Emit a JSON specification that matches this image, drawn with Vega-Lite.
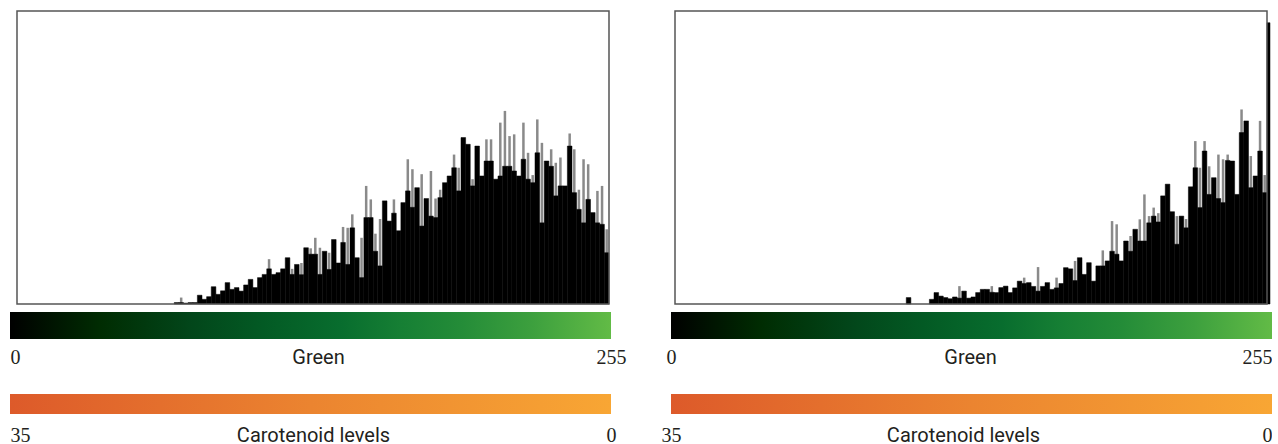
{
  "$schema": "https://vega.github.io/schema/vega-lite/v6.json",
  "padding": {"left": 10, "top": 10, "right": 0, "bottom": 0},
  "autosize": {"type": "pad"},
  "background": "white",
  "config": {"view": {"stroke": null}},
  "spacing": 35,
  "datasets": {
    "left": [
      {"g0":68,"g1":70,"count":0.5},{"g0":70,"g1":72,"count":0.5,"spike":2.2},{"g0":72,"g1":74,"count":0.3},{"g0":74,"g1":76,"count":0.5},
      {"g0":76,"g1":78,"count":0.5},{"g0":78,"g1":80,"count":3},{"g0":80,"g1":82,"count":1.6},{"g0":82,"g1":84,"count":2.5},
      {"g0":84,"g1":86,"count":5.9},{"g0":86,"g1":88,"count":3.3},{"g0":88,"g1":90,"count":4.5},{"g0":90,"g1":92,"count":7.3},
      {"g0":92,"g1":94,"count":5},{"g0":94,"g1":96,"count":5.6},{"g0":96,"g1":98,"count":4.4},{"g0":98,"g1":100,"count":6.5},
      {"g0":100,"g1":102,"count":8.4},{"g0":102,"g1":104,"count":5.6},{"g0":104,"g1":106,"count":9},{"g0":106,"g1":108,"count":10.1},
      {"g0":108,"g1":110,"count":12,"spike":15.3},{"g0":110,"g1":112,"count":10.1},{"g0":112,"g1":114,"count":10.7},{"g0":114,"g1":116,"count":12},
      {"g0":116,"g1":118,"count":15.8},{"g0":118,"g1":120,"count":10.1,"spike":12},{"g0":120,"g1":122,"count":13.5},{"g0":122,"g1":124,"count":10,"spike":14},
      {"g0":124,"g1":126,"count":19.2},{"g0":126,"g1":128,"count":17,"spike":19},{"g0":128,"g1":130,"count":17,"spike":22.6},{"g0":130,"g1":132,"count":10.1,"spike":19.2},
      {"g0":132,"g1":134,"count":18},{"g0":134,"g1":136,"count":11.8,"spike":17.5},{"g0":136,"g1":138,"count":22},{"g0":138,"g1":140,"count":14},
      {"g0":140,"g1":142,"count":21,"spike":26.3},{"g0":142,"g1":144,"count":13.5,"spike":26},{"g0":144,"g1":146,"count":26,"spike":30.6},{"g0":146,"g1":148,"count":15.8},
      {"g0":148,"g1":150,"count":9,"spike":22.6},{"g0":150,"g1":152,"count":29.5,"spike":40.3},{"g0":152,"g1":154,"count":29.5,"spike":35.7},{"g0":154,"g1":156,"count":18,"spike":24},
      {"g0":156,"g1":158,"count":13,"spike":29},{"g0":158,"g1":160,"count":35.2},{"g0":160,"g1":162,"count":28.3},{"g0":162,"g1":164,"count":31,"spike":35.7},
      {"g0":164,"g1":166,"count":25},{"g0":166,"g1":168,"count":34.6},{"g0":168,"g1":170,"count":38.6,"spike":49.4},{"g0":170,"g1":172,"count":33,"spike":46},
      {"g0":172,"g1":174,"count":39.7},{"g0":174,"g1":176,"count":26.6,"spike":44.3},{"g0":176,"g1":178,"count":36},{"g0":178,"g1":180,"count":30,"spike":45.4},
      {"g0":180,"g1":182,"count":29.5,"spike":36},{"g0":182,"g1":184,"count":36.3,"spike":39},{"g0":184,"g1":186,"count":41.4},{"g0":186,"g1":188,"count":43.7},
      {"g0":188,"g1":190,"count":46.5,"spike":51},{"g0":190,"g1":192,"count":38.6,"spike":46.5},{"g0":192,"g1":194,"count":56.8},{"g0":194,"g1":196,"count":54.5},
      {"g0":196,"g1":198,"count":40.3,"spike":42.6},{"g0":198,"g1":200,"count":53.9},{"g0":200,"g1":202,"count":43.7},{"g0":202,"g1":204,"count":48.8,"spike":56.2},
      {"g0":204,"g1":206,"count":48.8,"spike":56.2},{"g0":206,"g1":208,"count":42.6},{"g0":208,"g1":210,"count":43.7,"spike":61.9},{"g0":210,"g1":212,"count":47,"spike":65.9},
      {"g0":212,"g1":214,"count":47,"spike":57.3},{"g0":214,"g1":216,"count":45.4,"spike":57.9},{"g0":216,"g1":218,"count":43.7},{"g0":218,"g1":220,"count":49.4,"spike":61.9},
      {"g0":220,"g1":222,"count":42.6,"spike":51.6},{"g0":222,"g1":224,"count":41.4,"spike":44},{"g0":224,"g1":226,"count":51.6,"spike":63},{"g0":226,"g1":228,"count":27.7,"spike":55},
      {"g0":228,"g1":230,"count":48.8},{"g0":230,"g1":232,"count":47,"spike":52.8},{"g0":232,"g1":234,"count":36.9,"spike":48.2},{"g0":234,"g1":236,"count":40.3,"spike":50},
      {"g0":236,"g1":238,"count":40.3},{"g0":238,"g1":240,"count":53.9,"spike":58.2},{"g0":240,"g1":242,"count":38,"spike":52.8},{"g0":242,"g1":244,"count":32.3,"spike":39},
      {"g0":244,"g1":246,"count":27.7,"spike":49.4},{"g0":246,"g1":248,"count":35.7,"spike":47.7},{"g0":248,"g1":250,"count":31.2},{"g0":250,"g1":252,"count":27.7,"spike":38.6},
      {"g0":252,"g1":254,"count":27.2,"spike":40.3},{"g0":254,"g1":256,"count":17.5,"spike":25.5}
    ],
    "right": [
      {"g0":100,"g1":102,"count":2.2},{"g0":110,"g1":112,"count":1.6},{"g0":112,"g1":114,"count":3.9},{"g0":114,"g1":116,"count":2.7},
      {"g0":116,"g1":118,"count":2.2},{"g0":118,"g1":120,"count":1.8},{"g0":120,"g1":122,"count":2.4},{"g0":122,"g1":124,"count":2,"spike":6.1},
      {"g0":124,"g1":126,"count":4.4},{"g0":126,"g1":128,"count":2},{"g0":128,"g1":130,"count":2.4},{"g0":130,"g1":132,"count":3.9},
      {"g0":132,"g1":134,"count":5},{"g0":134,"g1":136,"count":5},{"g0":136,"g1":138,"count":4,"spike":6.1},{"g0":138,"g1":140,"count":3.9},
      {"g0":140,"g1":142,"count":5.6},{"g0":142,"g1":144,"count":6.1},{"g0":144,"g1":146,"count":3.9},{"g0":146,"g1":148,"count":5.5},
      {"g0":148,"g1":150,"count":7.8},{"g0":150,"g1":152,"count":7,"spike":9},{"g0":152,"g1":154,"count":7.3},{"g0":154,"g1":156,"count":6},
      {"g0":156,"g1":158,"count":4.4,"spike":12.6},{"g0":158,"g1":160,"count":6},{"g0":160,"g1":162,"count":7.3},{"g0":162,"g1":164,"count":5},
      {"g0":164,"g1":166,"count":5.5,"spike":9},{"g0":166,"g1":168,"count":7},{"g0":168,"g1":170,"count":12.4},{"g0":170,"g1":172,"count":12},
      {"g0":172,"g1":174,"count":8,"spike":14.7},{"g0":174,"g1":176,"count":15.8},{"g0":176,"g1":178,"count":10.1},{"g0":178,"g1":180,"count":14.1},
      {"g0":180,"g1":182,"count":7.8},{"g0":182,"g1":184,"count":13},{"g0":184,"g1":186,"count":13,"spike":18.3},{"g0":186,"g1":188,"count":14.7},
      {"g0":188,"g1":190,"count":18,"spike":28.3},{"g0":190,"g1":192,"count":17,"spike":27.2},{"g0":192,"g1":194,"count":14.7},{"g0":194,"g1":196,"count":21.5},
      {"g0":196,"g1":198,"count":18,"spike":23.2},{"g0":198,"g1":200,"count":25.5},{"g0":200,"g1":202,"count":21.5,"spike":28.9},{"g0":202,"g1":204,"count":21.5,"spike":37.4},
      {"g0":204,"g1":206,"count":27.7,"spike":30},{"g0":206,"g1":208,"count":30,"spike":32.9},{"g0":208,"g1":210,"count":28,"spike":31},{"g0":210,"g1":212,"count":36.9},
      {"g0":212,"g1":214,"count":40.9},{"g0":214,"g1":216,"count":31.5},{"g0":216,"g1":218,"count":20.4,"spike":30},{"g0":218,"g1":220,"count":30},
      {"g0":220,"g1":222,"count":26,"spike":29},{"g0":222,"g1":224,"count":40},{"g0":224,"g1":226,"count":46.5,"spike":55.6},{"g0":226,"g1":228,"count":32.9,"spike":46.5},
      {"g0":228,"g1":230,"count":52.2,"spike":55.6},{"g0":230,"g1":232,"count":37.4,"spike":47},{"g0":232,"g1":234,"count":43.1},{"g0":234,"g1":236,"count":36,"spike":51},
      {"g0":236,"g1":238,"count":34.6,"spike":49.4},{"g0":238,"g1":240,"count":49,"spike":51},{"g0":240,"g1":242,"count":48.8},{"g0":242,"g1":244,"count":37.4},
      {"g0":244,"g1":246,"count":58.5,"spike":66.4},{"g0":246,"g1":248,"count":62.5},{"g0":248,"g1":250,"count":39.7,"spike":50.5},{"g0":250,"g1":252,"count":43.7},
      {"g0":252,"g1":254,"count":52.2,"spike":62.5},{"g0":254,"g1":256,"count":38,"spike":44},{"g0":256,"g1":257.3,"count":96}
    ],
    "frame": [{"x0":0,"x1":256,"y0":0,"y1":100}],
    "green": [{"lo":0,"hi":255}],
    "carot": [{"lo":35,"hi":0}]
  },
  "hconcat": [
    {
      "spacing": 7,
      "vconcat": [
        {
          "width": 601,
          "height": 293,
          "layer": [
            {
              "data": {"name": "left"},
              "mark": {"type": "bar", "width": 2.5, "xOffset": 2.3, "color": "#8a8a8a"},
              "encoding": {
                "x": {"field": "g0", "type": "quantitative", "scale": {"domain": [-3.027, 256.865], "nice": false, "zero": false, "padding": 0}, "axis": null},
                "y": {"field": "spike", "type": "quantitative", "stack": null, "scale": {"domain": [0, 100], "nice": false}, "axis": null}
              }
            },
            {
              "data": {"name": "left"},
              "mark": {"type": "bar", "color": "#000000", "stroke": "#000000", "strokeWidth": 0.5},
              "encoding": {
                "x": {"field": "g0", "type": "quantitative", "scale": {"domain": [-3.027, 256.865], "nice": false, "zero": false, "padding": 0}, "axis": null},
                "x2": {"field": "g1"},
                "y": {"field": "count", "type": "quantitative", "stack": null, "scale": {"domain": [0, 100], "nice": false}, "axis": null},
                "y2": {"datum": 0}
              }
            },
            {
              "data": {"name": "frame"},
              "mark": {"type": "rect", "fill": "transparent", "stroke": "#555555", "strokeWidth": 1.5},
              "encoding": {
                "x": {"field": "x0", "type": "quantitative", "scale": {"domain": [-3.027, 256.865], "nice": false, "zero": false, "padding": 0}, "axis": null},
                "x2": {"field": "x1"},
                "y": {"field": "y0", "type": "quantitative", "scale": {"domain": [0, 100], "nice": false}, "axis": null},
                "y2": {"field": "y1"}
              }
            }
          ]
        },
        {
          "spacing": 27,
          "vconcat": [
            {
              "width": 601,
              "height": 27,
              "data": {"name": "green"},
              "mark": {"type": "rect", "fill": {"gradient": "linear", "x1": 0, "y1": 0, "x2": 1, "y2": 0, "stops": [
                {"offset": 0, "color": "#000000"},
                {"offset": 0.15, "color": "#002c02"},
                {"offset": 0.3, "color": "#02461a"},
                {"offset": 0.42, "color": "#035a24"},
                {"offset": 0.55, "color": "#086d2e"},
                {"offset": 0.65, "color": "#167f34"},
                {"offset": 0.75, "color": "#248c38"},
                {"offset": 0.87, "color": "#3da03e"},
                {"offset": 1, "color": "#62bb46"}
              ]}},
              "encoding": {
                "x": {"field": "lo", "type": "quantitative", "scale": {"domain": [0, 255], "nice": false, "zero": false},
                  "axis": {"values": [0, 255], "ticks": false, "domain": false, "grid": false, "labelFlush": false, "labelOverlap": false,
                    "labelFont": "Liberation Serif", "labelFontSize": 20, "labelColor": "#231f20", "labelBaseline": "alphabetic", "labelPadding": 24,
                    "labelAlign": {"condition": {"test": "datum.value == 0", "value": "left"}, "value": "center"},
                    "title": "Green", "titleFont": "Roboto", "titleFontSize": 20, "titleFontWeight": "normal", "titleColor": "#231f20",
                    "titleBaseline": "alphabetic", "titleY": 24, "titleX": 308, "titleAlign": "center"}},
                "x2": {"field": "hi"}
              }
            },
            {
              "width": 601,
              "height": 20,
              "data": {"name": "carot"},
              "mark": {"type": "rect", "fill": {"gradient": "linear", "x1": 0, "y1": 0, "x2": 1, "y2": 0, "stops": [
                {"offset": 0, "color": "#dd5a2a"},
                {"offset": 0.5, "color": "#eb8430"},
                {"offset": 1, "color": "#f8a634"}
              ]}},
              "encoding": {
                "x": {"field": "lo", "type": "quantitative", "scale": {"domain": [0, 35], "reverse": true, "nice": false, "zero": false},
                  "axis": {"values": [35, 0], "ticks": false, "domain": false, "grid": false, "labelFlush": false, "labelOverlap": false,
                    "labelFont": "Liberation Serif", "labelFontSize": 20, "labelColor": "#231f20", "labelBaseline": "alphabetic", "labelPadding": 27,
                    "labelAlign": {"condition": {"test": "datum.value == 35", "value": "left"}, "value": "center"},
                    "title": "Carotenoid levels", "titleFont": "Roboto", "titleFontSize": 20, "titleFontWeight": "normal", "titleColor": "#231f20",
                    "titleBaseline": "alphabetic", "titleY": 27, "titleX": 303, "titleAlign": "center"}},
                "x2": {"field": "hi"}
              }
            }
          ]
        }
      ]
    },
    {
      "spacing": 7,
      "vconcat": [
        {
          "width": 601,
          "height": 293,
          "layer": [
            {
              "data": {"name": "right"},
              "mark": {"type": "bar", "width": 2.5, "xOffset": 2.3, "color": "#8a8a8a"},
              "encoding": {
                "x": {"field": "g0", "type": "quantitative", "scale": {"domain": [-1.73, 258.162], "nice": false, "zero": false, "padding": 0}, "axis": null},
                "y": {"field": "spike", "type": "quantitative", "stack": null, "scale": {"domain": [0, 100], "nice": false}, "axis": null}
              }
            },
            {
              "data": {"name": "right"},
              "mark": {"type": "bar", "color": "#000000", "stroke": "#000000", "strokeWidth": 0.5},
              "encoding": {
                "x": {"field": "g0", "type": "quantitative", "scale": {"domain": [-1.73, 258.162], "nice": false, "zero": false, "padding": 0}, "axis": null},
                "x2": {"field": "g1"},
                "y": {"field": "count", "type": "quantitative", "stack": null, "scale": {"domain": [0, 100], "nice": false}, "axis": null},
                "y2": {"datum": 0}
              }
            },
            {
              "data": {"name": "frame"},
              "mark": {"type": "rect", "fill": "transparent", "stroke": "#555555", "strokeWidth": 1.5},
              "encoding": {
                "x": {"field": "x0", "type": "quantitative", "scale": {"domain": [-1.73, 258.162], "nice": false, "zero": false, "padding": 0}, "axis": null},
                "x2": {"field": "x1"},
                "y": {"field": "y0", "type": "quantitative", "scale": {"domain": [0, 100], "nice": false}, "axis": null},
                "y2": {"field": "y1"}
              }
            }
          ]
        },
        {
          "spacing": 27,
          "vconcat": [
            {
              "width": 601,
              "height": 27,
              "data": {"name": "green"},
              "mark": {"type": "rect", "fill": {"gradient": "linear", "x1": 0, "y1": 0, "x2": 1, "y2": 0, "stops": [
                {"offset": 0, "color": "#000000"},
                {"offset": 0.15, "color": "#002c02"},
                {"offset": 0.3, "color": "#02461a"},
                {"offset": 0.42, "color": "#035a24"},
                {"offset": 0.55, "color": "#086d2e"},
                {"offset": 0.65, "color": "#167f34"},
                {"offset": 0.75, "color": "#248c38"},
                {"offset": 0.87, "color": "#3da03e"},
                {"offset": 1, "color": "#62bb46"}
              ]}},
              "encoding": {
                "x": {"field": "lo", "type": "quantitative", "scale": {"domain": [0, 255], "nice": false, "zero": false},
                  "axis": {"values": [0, 255], "ticks": false, "domain": false, "grid": false, "labelFlush": false, "labelOverlap": false,
                    "labelFont": "Liberation Serif", "labelFontSize": 20, "labelColor": "#231f20", "labelBaseline": "alphabetic", "labelPadding": 24,
                    "labelAlign": {"condition": {"test": "datum.value == 255", "value": "right"}, "value": "center"},
                    "title": "Green", "titleFont": "Roboto", "titleFontSize": 20, "titleFontWeight": "normal", "titleColor": "#231f20",
                    "titleBaseline": "alphabetic", "titleY": 24, "titleX": 299, "titleAlign": "center"}},
                "x2": {"field": "hi"}
              }
            },
            {
              "width": 601,
              "height": 20,
              "data": {"name": "carot"},
              "mark": {"type": "rect", "fill": {"gradient": "linear", "x1": 0, "y1": 0, "x2": 1, "y2": 0, "stops": [
                {"offset": 0, "color": "#dd5a2a"},
                {"offset": 0.5, "color": "#eb8430"},
                {"offset": 1, "color": "#f8a634"}
              ]}},
              "encoding": {
                "x": {"field": "lo", "type": "quantitative", "scale": {"domain": [0, 35], "reverse": true, "nice": false, "zero": false},
                  "axis": {"values": [35, 0], "ticks": false, "domain": false, "grid": false, "labelFlush": false, "labelOverlap": false,
                    "labelFont": "Liberation Serif", "labelFontSize": 20, "labelColor": "#231f20", "labelBaseline": "alphabetic", "labelPadding": 27,
                    "labelAlign": {"condition": {"test": "datum.value == 0", "value": "right"}, "value": "center"},
                    "title": "Carotenoid levels", "titleFont": "Roboto", "titleFontSize": 20, "titleFontWeight": "normal", "titleColor": "#231f20",
                    "titleBaseline": "alphabetic", "titleY": 27, "titleX": 292, "titleAlign": "center"}},
                "x2": {"field": "hi"}
              }
            }
          ]
        }
      ]
    }
  ]
}
